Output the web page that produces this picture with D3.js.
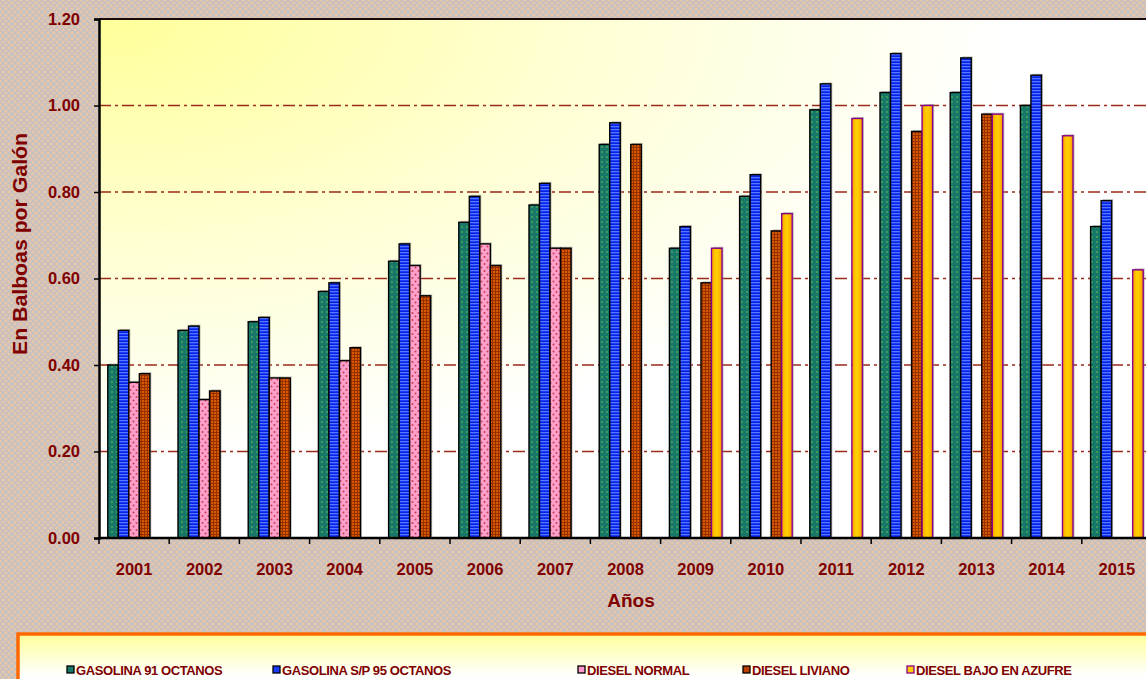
<!DOCTYPE html>
<html>
<head>
<meta charset="utf-8">
<script src="https://cdn.jsdelivr.net/npm/d3@7"></script>
<style>
  html, body { margin: 0; padding: 0; overflow: hidden; }
  svg { display: block; }
  text { font-family: "Liberation Sans", Arial, sans-serif; font-weight: bold; fill: #800000; }
</style>
</head>
<body>
<svg id="chart" width="1146" height="679"></svg>
<script>
const years = ["2001","2002","2003","2004","2005","2006","2007","2008","2009","2010","2011","2012","2013","2014","2015"];
const gasolina91 =   [0.40,0.48,0.50,0.57,0.64,0.73,0.77,0.91,0.67,0.79,0.99,1.03,1.03,1.00,0.72];
const gasolina95 =   [0.48,0.49,0.51,0.59,0.68,0.79,0.82,0.96,0.72,0.84,1.05,1.12,1.11,1.07,0.78];
const dieselNormal = [0.36,0.32,0.37,0.41,0.63,0.68,0.67,null,null,null,null,null,null,null,null];
const dieselLiviano =[0.38,0.34,0.37,0.44,0.56,0.63,0.67,0.91,0.59,0.71,null,0.94,0.98,null,null];
const dieselBajo =   [null,null,null,null,null,null,null,null,0.67,0.75,0.97,1.00,0.98,0.93,0.62];
const yTicks = [0,0.2,0.4,0.6,0.8,1.0,1.2];
const seriesNames = ["GASOLINA 91 OCTANOS","GASOLINA S/P 95 OCTANOS","DIESEL NORMAL","DIESEL LIVIANO","DIESEL BAJO EN AZUFRE"];
const seriesValues = [gasolina91, gasolina95, dieselNormal, dieselLiviano, dieselBajo];
const seriesFill = ["url(#pGreen)","url(#pBlue)","url(#pPink)","url(#pBrown)","url(#gYellow)"];
const seriesStroke = ["#000","#000","#000","#000","#880088"];
const legendFill = ["#1a7a6a","#1a3cff","#ff99cc","#b84000","#ffcc00"];
const legendStroke = ["#000","#000","#000","#000","#880088"];
const legendX = [67,273,578,743,907];

const svg = d3.select("#chart");
const defs = svg.append("defs");

// background texture
const bg = defs.append("pattern").attr("id","pBg").attr("width",6).attr("height",6).attr("patternUnits","userSpaceOnUse");
bg.append("rect").attr("width",6).attr("height",6).attr("fill","#e6c7aa");
bg.append("path").attr("d","M0,0L6,6M6,0L0,6").attr("stroke","#c4bfc2").attr("stroke-width",1.3);
bg.append("rect").attr("x",2.5).attr("y",2.5).attr("width",1).attr("height",1).attr("fill","#c8c2c4");

// plot gradient
const rg = defs.append("radialGradient").attr("id","gPlot").attr("cx",0).attr("cy",0).attr("r",1).attr("fx",0).attr("fy",0);
rg.append("stop").attr("offset",0).attr("stop-color","#ffff99");
rg.append("stop").attr("offset",0.45).attr("stop-color","#ffffd4");
rg.append("stop").attr("offset",0.85).attr("stop-color","#ffffff");

// legend gradient
const lg = defs.append("linearGradient").attr("id","gLegend").attr("x1",0).attr("y1",0).attr("x2",0).attr("y2",1);
lg.append("stop").attr("offset",0).attr("stop-color","#ffff99");
lg.append("stop").attr("offset",0.6).attr("stop-color","#ffffff");

// bar patterns
const pg = defs.append("pattern").attr("id","pGreen").attr("width",5).attr("height",5).attr("patternUnits","userSpaceOnUse");
pg.append("rect").attr("width",5).attr("height",5).attr("fill","#17786a");
pg.append("rect").attr("x",1).attr("y",1).attr("width",2).attr("height",2).attr("fill","#3f9a5c");

const pb = defs.append("pattern").attr("id","pBlue").attr("width",4).attr("height",3).attr("patternUnits","userSpaceOnUse");
pb.append("rect").attr("width",4).attr("height",3).attr("fill","#1a3cff");
pb.append("rect").attr("y",0).attr("width",4).attr("height",1).attr("fill","#5577ff");
pb.append("rect").attr("y",2).attr("width",4).attr("height",1).attr("fill","#0a22dd");

const pp = defs.append("pattern").attr("id","pPink").attr("width",6).attr("height",7).attr("patternUnits","userSpaceOnUse");
pp.append("rect").attr("width",6).attr("height",7).attr("fill","#ff9fcc");
pp.append("circle").attr("cx",1.5).attr("cy",1.5).attr("r",1).attr("fill","#c84050");
pp.append("circle").attr("cx",4.5).attr("cy",5).attr("r",1).attr("fill","#c84050");

const pr = defs.append("pattern").attr("id","pBrown").attr("width",3).attr("height",3).attr("patternUnits","userSpaceOnUse");
pr.append("rect").attr("width",3).attr("height",3).attr("fill","#d85a00");
pr.append("rect").attr("width",3).attr("height",1).attr("fill","#963000");
pr.append("rect").attr("width",1).attr("height",3).attr("fill","#963000");

const gy = defs.append("linearGradient").attr("id","gYellow").attr("x1",0).attr("y1",0).attr("x2",1).attr("y2",0);
gy.append("stop").attr("offset",0).attr("stop-color","#ff9900");
gy.append("stop").attr("offset",0.35).attr("stop-color","#ffcc00");
gy.append("stop").attr("offset",0.6).attr("stop-color","#ffcc00");
gy.append("stop").attr("offset",1).attr("stop-color","#ff9900");

// background
svg.append("rect").attr("width",1146).attr("height",679).attr("fill","url(#pBg)");

// scales
const plotLeft = 99, plotTop = 19, plotBottom = 538;
const bandW = 70.2;
const x = d3.scaleBand().domain(years).range([plotLeft, plotLeft + bandW*years.length]).padding(0);
const xs = d3.scaleBand().domain(d3.range(5)).range([8.8, bandW - 8.8]).padding(0);
const y = d3.scaleLinear().domain([0,1.2]).range([plotBottom, plotTop]);

// plot area
svg.append("rect").attr("x",plotLeft).attr("y",plotTop)
  .attr("width",x.range()[1]-plotLeft+20).attr("height",plotBottom-plotTop)
  .attr("fill","url(#gPlot)");

// gridlines
svg.append("g").selectAll("line").data(yTicks.filter(d => d > 0 && d < 1.2)).join("line")
  .attr("x1",plotLeft).attr("x2",1146).attr("y1",d=>y(d)).attr("y2",d=>y(d))
  .attr("stroke","#9a2a1a").attr("stroke-width",1.6).attr("stroke-dasharray","12,4,3,4");

// top border
svg.append("line").attr("x1",plotLeft).attr("x2",1146).attr("y1",plotTop).attr("y2",plotTop)
  .attr("stroke","#1a0a0a").attr("stroke-width",2);

// bars
const barsG = svg.append("g");
seriesValues.forEach((vals, si) => {
  const data = years.map((yr,i)=>({yr, v: vals[i]})).filter(d => d.v != null);
  const g = barsG.append("g");
  g.selectAll("rect.sh").data(data).join("rect").attr("class","sh")
    .attr("x", d => x(d.yr) + xs(si) + 1.5).attr("y", d => y(d.v) - 1.5)
    .attr("width", xs.bandwidth()).attr("height", d => plotBottom - y(d.v))
    .attr("fill","#8a8a8a").attr("opacity",0.55);
  g.selectAll("rect.b").data(data).join("rect").attr("class","b")
    .attr("x", d => x(d.yr) + xs(si)).attr("y", d => y(d.v))
    .attr("width", xs.bandwidth()).attr("height", d => plotBottom - y(d.v))
    .attr("fill", seriesFill[si]).attr("stroke", seriesStroke[si]).attr("stroke-width",1.4);
});

// axes
const yAxis = d3.axisLeft(y).tickValues(yTicks).tickFormat(d3.format(".2f")).tickSize(5).tickPadding(14);
const yg = svg.append("g").attr("transform",`translate(${plotLeft},0)`).call(yAxis);
yg.select(".domain").attr("stroke","#000").attr("stroke-width",2.5);
yg.selectAll(".tick line").attr("stroke","#000").attr("stroke-width",1.5);
yg.selectAll(".tick text").attr("font-size",16.5).attr("fill","#800000").attr("font-family","Liberation Sans, Arial, sans-serif").attr("font-weight","bold");

const xAxis = d3.axisBottom(x).tickSize(0).tickPadding(25);
const xg = svg.append("g").attr("transform",`translate(0,${plotBottom})`).call(xAxis);
xg.select(".domain").remove();
xg.selectAll(".tick text").attr("font-size",16.5).attr("fill","#800000").attr("font-family","Liberation Sans, Arial, sans-serif").attr("font-weight","bold");
svg.append("line").attr("x1",plotLeft-1).attr("x2",1146).attr("y1",plotBottom).attr("y2",plotBottom).attr("stroke","#000").attr("stroke-width",2.5);
svg.append("g").selectAll("line").data(years.concat(["end"])).join("line")
  .attr("x1",(d,i)=>plotLeft + i*bandW).attr("x2",(d,i)=>plotLeft + i*bandW)
  .attr("y1",plotBottom).attr("y2",plotBottom+6).attr("stroke","#000").attr("stroke-width",1.5);

// axis titles
svg.append("text").attr("transform","translate(27,244) rotate(-90)").attr("text-anchor","middle")
  .attr("font-size",20.5).attr("textLength",222).attr("lengthAdjust","spacingAndGlyphs").text("En Balboas por Galón");
svg.append("text").attr("x",631).attr("y",607).attr("text-anchor","middle").attr("font-size",19).text("Años");

// legend
svg.append("rect").attr("x",18).attr("y",634).attr("width",1150).attr("height",70)
  .attr("fill","url(#gLegend)").attr("stroke","#ff6a00").attr("stroke-width",3.5);
const leg = svg.append("g");
seriesNames.forEach((n,i)=>{
  leg.append("rect").attr("x",legendX[i]).attr("y",666).attr("width",7).attr("height",7)
    .attr("fill",legendFill[i]).attr("stroke",legendStroke[i]).attr("stroke-width",1.3);
  leg.append("text").attr("x",legendX[i]+9).attr("y",675).attr("font-size",13).attr("letter-spacing","-0.4").text(n);
});
</script>
</body>
</html>
